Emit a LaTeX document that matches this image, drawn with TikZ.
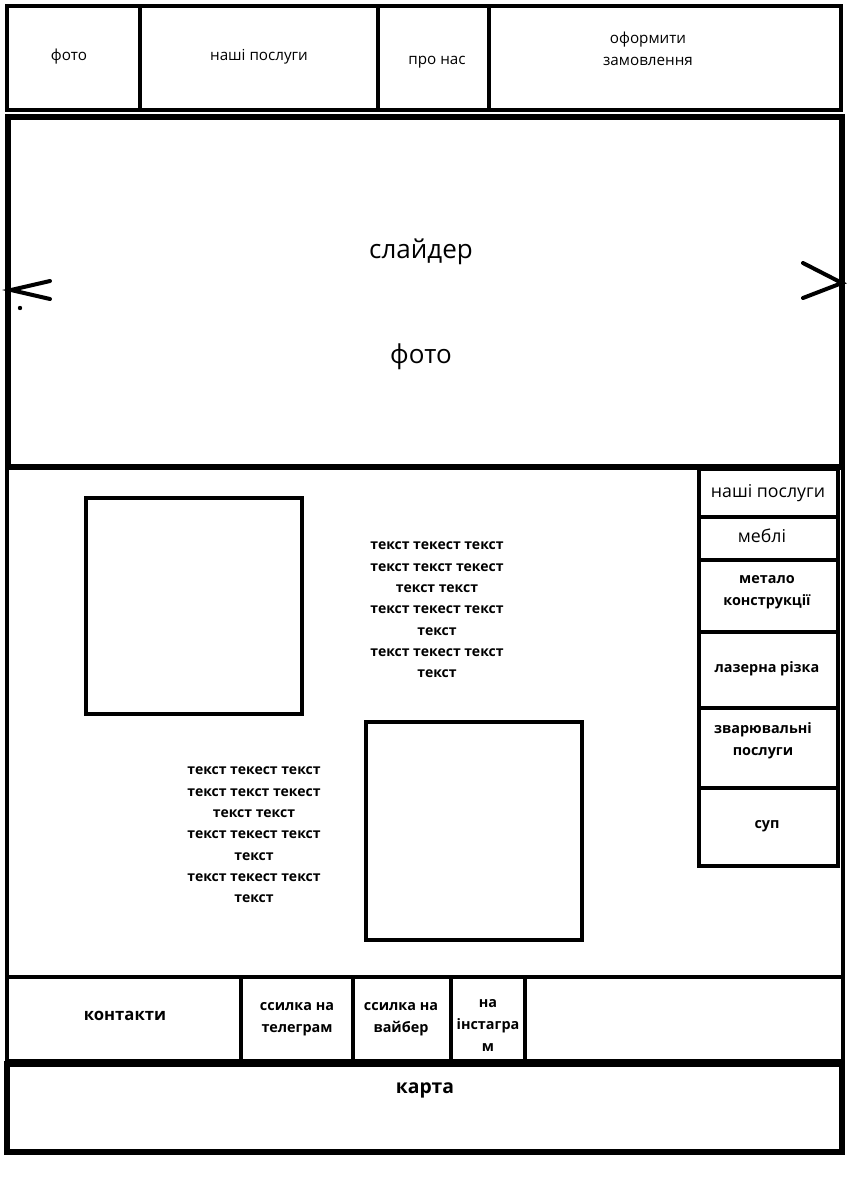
\documentclass[tikz,border=0pt]{standalone}
\usepackage{fontspec}
\setmainfont{Open Sans}

\begin{document}
\begin{tikzpicture}[x=0.75pt,y=-0.75pt,
  frame/.style={line width=3.6pt},
  thinframe/.style={line width=3pt},
  menutext/.style={font=\fontsize{11.4}{16.5}\selectfont,align=center},
  bodytext/.style={font=\bfseries\fontsize{10.5}{16}\selectfont,align=center},
  sidetext/.style={font=\bfseries\fontsize{10.8}{16.5}\selectfont,align=center},
  foottext/.style={font=\bfseries\fontsize{10.8}{16.5}\selectfont,align=center}]
\useasboundingbox (0,0) rectangle (848,1189);
\draw[frame] (7,6) rectangle (841,110);
\draw[frame] (140,6) -- (140,110);
\draw[frame] (378,6) -- (378,110);
\draw[frame] (489,6) -- (489,110);
\node[menutext] (hfoto) at (69,57) {фото};
\node[menutext] (hposlugy) at (259,57) {наші послуги};
\node[menutext] (hpronas) at (437,62) {про нас};
\node[menutext] (hzamov) at (648,49) {оформити\\замовлення};
\draw[line width=4.8pt] (8,117) rectangle (842,467);
\draw[line width=3pt,line cap=round] (50,281) -- (11,290) -- (50,299);
\fill (20,308) circle (2.2);
\draw[line width=3pt,line cap=round] (803,263) -- (842,283) -- (803,298);
\node[font=\fontsize{19.5}{22}\selectfont] (slider) at (421,252) {слайдер};
\node[font=\fontsize{19.5}{22}\selectfont] (sfoto) at (421,357) {фото};
\draw[thinframe] (7,467) rectangle (843,977);
\draw[thinframe] (86,498) rectangle (302,714);
\draw[thinframe] (366,722) rectangle (582,940);
\node[bodytext] (text1) at (437,610) {текст текест текст\\текст текст текест\\текст текст\\текст текест текст\\текст\\текст текест текст\\текст};
\node[bodytext] (text2) at (254,835) {текст текест текст\\текст текст текест\\текст текст\\текст текест текст\\текст\\текст текест текст\\текст};
\draw[thinframe] (699,469) rectangle (838,866);
\draw[thinframe] (699,517) -- (838,517);
\draw[thinframe] (699,560) -- (838,560);
\draw[thinframe] (699,632) -- (838,632);
\draw[thinframe] (699,708) -- (838,708);
\draw[thinframe] (699,788) -- (838,788);
\node[font=\fontsize{13.3}{16}\selectfont] (sposlugy) at (768,493) {наші послуги};
\node[font=\fontsize{13.3}{16}\selectfont] (smebli) at (762,536) {меблі};
\node[sidetext] (smetal) at (767,592) {метало\\конструкції};
\node[sidetext] (slazer) at (767,669) {лазерна різка};
\node[sidetext] (szvar) at (763,741) {зварювальні\\послуги};
\node[sidetext] (ssup) at (767,826) {суп};
\draw[frame] (7,977) rectangle (843,1061);
\draw[frame] (241,977) -- (241,1061);
\draw[frame] (353,977) -- (353,1061);
\draw[frame] (451,977) -- (451,1061);
\draw[frame] (525,977) -- (525,1061);
\node[font=\bfseries\fontsize{12.5}{16}\selectfont] (kontakty) at (125,1016) {контакти};
\node[foottext] (telegram) at (297,1019) {ссилка на\\телеграм};
\node[foottext] (viber) at (401,1019) {ссилка на\\вайбер};
\node[foottext] (insta) at (488,1025) {на\\інстагра\\м};
\draw[line width=4.2pt] (7,1064) rectangle (842,1152);
\node[font=\bfseries\fontsize{14.5}{16}\selectfont] (karta) at (425,1090) {карта};
\end{tikzpicture}
\end{document}
